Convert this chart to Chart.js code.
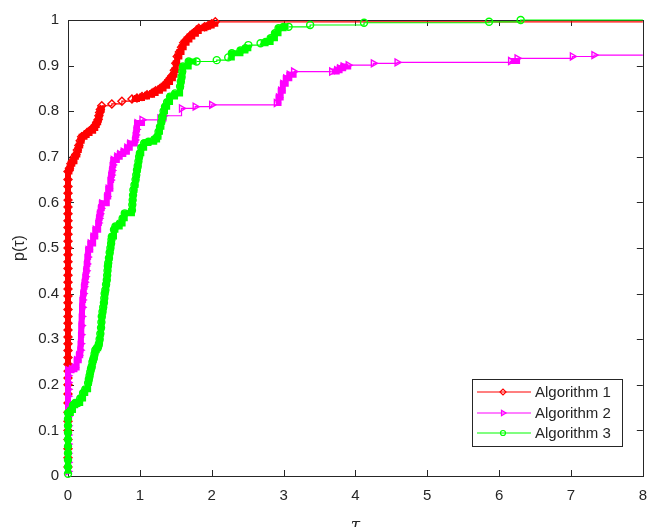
<!DOCTYPE html>
<html>
<head>
<meta charset="utf-8">
<script src="https://cdn.jsdelivr.net/npm/chart.js@4.4.1/dist/chart.umd.min.js"></script>
<style>
html, body { margin: 0; padding: 0; background: #fff; overflow: hidden; }
#frame { width: 647px; height: 527px; overflow: hidden; }
#wrap { width: 658px; height: 527px; }
</style>
</head>
<body>
<div id="frame"><div id="wrap"><canvas id="perf"></canvas></div></div>
<script>
// ===== DATA (tau, p(tau)) =====
const xTicks = [0, 1, 2, 3, 4, 5, 6, 7, 8];
const yTicks = [0, 0.1, 0.2, 0.3, 0.4, 0.5, 0.6, 0.7, 0.8, 0.9, 1];
const seriesNames = ['Algorithm 1', 'Algorithm 2', 'Algorithm 3'];

const alg1Points = [
    [0, 0.02], [0, 0.04], [0, 0.06], [0, 0.08], [0, 0.10], [0, 0.12], [0, 0.14], [0, 0.16],
    [0, 0.18], [0, 0.20], [0, 0.215], [0, 0.23], [0, 0.245],
    [0, 0.26], [0, 0.275], [0, 0.29], [0, 0.305], [0, 0.32], [0, 0.335], [0, 0.35], [0, 0.365],
    [0, 0.38], [0, 0.395], [0, 0.41], [0, 0.425], [0, 0.44], [0, 0.455], [0, 0.47], [0, 0.485],
    [0, 0.50], [0, 0.515], [0, 0.53], [0, 0.545], [0, 0.56], [0, 0.575], [0, 0.59], [0, 0.605],
    [0, 0.62], [0, 0.635], [0, 0.65], [0, 0.668],
    [0.02, 0.675], [0.04, 0.685], [0.06, 0.69], [0.09, 0.70], [0.11, 0.705], [0.13, 0.715],
    [0.15, 0.725], [0.17, 0.735], [0.19, 0.744], [0.23, 0.748], [0.26, 0.752], [0.30, 0.757],
    [0.35, 0.763], [0.38, 0.77], [0.40, 0.776], [0.42, 0.782], [0.43, 0.79], [0.44, 0.797],
    [0.45, 0.804], [0.47, 0.812], [0.61, 0.816], [0.75, 0.822], [0.89, 0.827], [0.96, 0.829],
    [1.03, 0.832], [1.10, 0.836], [1.17, 0.84], [1.22, 0.845], [1.28, 0.85], [1.33, 0.856],
    [1.38, 0.864], [1.42, 0.872], [1.46, 0.88], [1.48, 0.89], [1.50, 0.905], [1.52, 0.92],
    [1.55, 0.93], [1.58, 0.94], [1.61, 0.95], [1.65, 0.957], [1.69, 0.964], [1.73, 0.97],
    [1.78, 0.976], [1.82, 0.982], [1.90, 0.985], [1.95, 0.988], [2.0, 0.992], [2.05, 0.996],
    [8, 0.996]
];

const alg2Points = [
    [0, 0.01], [0, 0.03], [0, 0.05], [0, 0.07], [0, 0.09], [0, 0.11], [0, 0.13], [0, 0.145],
    [0, 0.16], [0, 0.175], [0, 0.19], [0, 0.205], [0, 0.22], [0, 0.232],
    [0.05, 0.234], [0.09, 0.238], [0.12, 0.254], [0.15, 0.265], [0.17, 0.276], [0.175, 0.29],
    [0.18, 0.31], [0.185, 0.33], [0.19, 0.35], [0.195, 0.37], [0.20, 0.386], [0.21, 0.40],
    [0.22, 0.415], [0.23, 0.425], [0.24, 0.437], [0.25, 0.45], [0.26, 0.465], [0.27, 0.48],
    [0.28, 0.496], [0.31, 0.51], [0.35, 0.525], [0.38, 0.54], [0.42, 0.555], [0.43, 0.565],
    [0.44, 0.575], [0.455, 0.587], [0.47, 0.598], [0.54, 0.613], [0.56, 0.63], [0.59, 0.649],
    [0.60, 0.66], [0.61, 0.67], [0.62, 0.682], [0.63, 0.693], [0.68, 0.70], [0.72, 0.706],
    [0.77, 0.711], [0.82, 0.72], [0.86, 0.729], [0.93, 0.737], [0.94, 0.748], [0.95, 0.76],
    [0.96, 0.774], [1.03, 0.781], [1.28, 0.784], [1.33, 0.79], [1.58, 0.806], [1.77, 0.81],
    [2.0, 0.814], [2.90, 0.818], [2.93, 0.83], [2.96, 0.845], [2.99, 0.86], [3.03, 0.872],
    [3.08, 0.88], [3.14, 0.887], [3.67, 0.887], [3.74, 0.89], [3.78, 0.894], [3.83, 0.898],
    [3.90, 0.901], [4.25, 0.905], [4.58, 0.907], [6.16, 0.91], [6.25, 0.916], [7.02, 0.92],
    [7.32, 0.923], [8, 0.923]
];

const alg3Points = [
    [0, 0.005], [0, 0.02], [0, 0.035], [0, 0.05], [0, 0.065], [0, 0.08], [0, 0.095], [0, 0.11],
    [0, 0.125], [0, 0.138],
    [0.04, 0.145], [0.07, 0.155], [0.10, 0.16], [0.14, 0.16], [0.17, 0.17], [0.21, 0.182],
    [0.24, 0.19], [0.28, 0.204], [0.29, 0.212], [0.30, 0.22], [0.31, 0.228], [0.32, 0.235],
    [0.33, 0.24], [0.34, 0.25], [0.35, 0.255], [0.36, 0.26], [0.37, 0.268], [0.38, 0.276],
    [0.40, 0.28], [0.42, 0.284], [0.43, 0.29], [0.44, 0.30], [0.45, 0.312], [0.46, 0.325],
    [0.465, 0.337], [0.47, 0.35], [0.48, 0.36], [0.49, 0.37], [0.50, 0.38], [0.505, 0.39],
    [0.51, 0.40], [0.52, 0.408], [0.53, 0.42], [0.54, 0.43], [0.545, 0.44], [0.55, 0.45],
    [0.555, 0.46], [0.56, 0.467], [0.57, 0.478], [0.58, 0.49], [0.59, 0.50], [0.60, 0.51],
    [0.605, 0.518], [0.61, 0.525], [0.64, 0.54], [0.66, 0.547], [0.72, 0.554], [0.76, 0.565],
    [0.79, 0.576], [0.89, 0.583], [0.895, 0.595], [0.90, 0.605], [0.905, 0.616], [0.91, 0.627],
    [0.925, 0.638], [0.94, 0.65], [0.95, 0.66], [0.96, 0.671], [0.97, 0.68], [0.98, 0.69],
    [0.99, 0.70], [1.0, 0.708], [1.02, 0.72], [1.06, 0.73], [1.12, 0.733], [1.20, 0.738],
    [1.24, 0.744], [1.26, 0.755], [1.28, 0.766], [1.30, 0.777], [1.31, 0.788], [1.33, 0.80],
    [1.35, 0.81], [1.38, 0.82], [1.42, 0.832], [1.49, 0.839], [1.56, 0.854], [1.57, 0.865],
    [1.58, 0.875], [1.59, 0.887], [1.60, 0.898], [1.68, 0.909], [1.79, 0.909], [2.07, 0.912],
    [2.23, 0.918], [2.28, 0.927], [2.40, 0.933], [2.47, 0.938], [2.51, 0.945], [2.68, 0.949],
    [2.75, 0.952], [2.82, 0.96], [2.88, 0.971], [2.93, 0.982], [3.0, 0.985], [3.07, 0.985],
    [3.37, 0.989], [4.12, 0.994], [5.86, 0.996], [6.3, 1.0], [8, 1.0]
];

const AXIS_COLOR = '#262626';
const FONT = 'Liberation Sans, Arial, Helvetica, sans-serif';

const styles = [
    { color: '#ff0000', pointStyle: 'rectRot', radius: 4, rotation: 0 },
    { color: '#ff00ff', pointStyle: 'triangle', radius: 4, rotation: 90 },
    { color: '#00ff00', pointStyle: 'circle', radius: 3.5, rotation: 0 }
];

function toXY(points) {
    return points.map(pt => ({ x: pt[0], y: pt[1] }));
}

// markers crowd together where many problems share close ratios;
// draw those stretches as a thick band like the overlapping markers do
function crowdedWidth(ctx) {
    const d = Math.hypot(ctx.p1.x - ctx.p0.x, ctx.p1.y - ctx.p0.y);
    return d < 10 ? 6 : 1.2;
}

function makeDataset(points, i) {
    const st = styles[i];
    const last = points.length - 1;
    return {
        label: seriesNames[i],
        data: toXY(points),
        stepped: 'before',
        borderColor: st.color,
        borderWidth: 1.2,
        segment: { borderWidth: crowdedWidth },
        pointStyle: st.pointStyle,
        pointRotation: st.rotation,
        pointRadius: ctx => (ctx.dataIndex === last ? 0 : st.radius),
        pointBorderColor: st.color,
        pointBackgroundColor: 'rgba(0,0,0,0)',
        pointBorderWidth: 1.4,
        order: 3 - i,
        clip: false
    };
}

// ===== BOX + INWARD TICKS =====
const framePlugin = {
    id: 'frame',
    beforeDatasetsDraw(chart) {
        const { ctx, chartArea: a, scales } = chart;
        ctx.save();
        ctx.strokeStyle = AXIS_COLOR;
        ctx.lineWidth = 1;
        ctx.strokeRect(Math.round(a.left) + 0.5, Math.round(a.top) + 0.5,
            Math.round(a.right - a.left), Math.round(a.bottom - a.top));
        const tl = 6;
        ctx.beginPath();
        xTicks.forEach(v => {
            const x = Math.round(scales.x.getPixelForValue(v)) + 0.5;
            ctx.moveTo(x, a.bottom); ctx.lineTo(x, a.bottom - tl);
            ctx.moveTo(x, a.top); ctx.lineTo(x, a.top + tl);
        });
        yTicks.forEach(v => {
            const y = Math.round(scales.y.getPixelForValue(v)) + 0.5;
            ctx.moveTo(a.left, y); ctx.lineTo(a.left + tl, y);
            ctx.moveTo(a.right, y); ctx.lineTo(a.right - tl, y);
        });
        ctx.stroke();
        ctx.restore();
    }
};

// ===== LEGEND BOX INSIDE THE PLOT =====
const legendPlugin = {
    id: 'boxLegend',
    afterDatasetsDraw(chart) {
        const ctx = chart.ctx;
        const box = { x: 472.5, y: 379.5, w: 150, h: 67 };
        ctx.save();
        ctx.fillStyle = '#fff';
        ctx.fillRect(box.x, box.y, box.w, box.h);
        ctx.strokeStyle = AXIS_COLOR;
        ctx.lineWidth = 1;
        ctx.strokeRect(box.x, box.y, box.w, box.h);
        ctx.font = '15px ' + FONT;
        ctx.textBaseline = 'middle';
        const rows = [392, 413, 433];
        seriesNames.forEach((name, i) => {
            const st = styles[i];
            const y = rows[i];
            ctx.strokeStyle = st.color;
            ctx.lineWidth = 1.2;
            ctx.beginPath();
            ctx.moveTo(477, y); ctx.lineTo(531, y);
            ctx.stroke();
            ctx.fillStyle = 'rgba(0,0,0,0)';
            Chart.helpers.drawPoint(ctx, {
                pointStyle: st.pointStyle,
                radius: st.radius - 1,
                rotation: st.rotation,
                borderWidth: 1
            }, 503, y);
            ctx.fillStyle = AXIS_COLOR;
            ctx.fillText(name, 535, y + 1);
        });
        ctx.restore();
    }
};

new Chart(document.getElementById('perf'), {
    type: 'line',
    data: {
        datasets: [alg1Points, alg2Points, alg3Points].map(makeDataset)
    },
    options: {
        responsive: true,
        maintainAspectRatio: false,
        animation: false,
        layout: { padding: { top: 20, right: 0, left: 0, bottom: 0 }, autoPadding: false },
        plugins: {
            legend: { display: false },
            tooltip: { enabled: false }
        },
        scales: {
            x: {
                type: 'linear',
                min: 0,
                max: 8,
                afterBuildTicks: s => { s.ticks = xTicks.map(v => ({ value: v })); },
                afterFit: s => { s.height = 51; },
                grid: { display: false, drawTicks: false },
                border: { display: false },
                ticks: {
                    color: AXIS_COLOR,
                    font: { family: FONT, size: 15 },
                    padding: 11,
                    maxRotation: 0,
                    autoSkip: false
                },
                title: {
                    display: true,
                    text: 'τ',
                    color: AXIS_COLOR,
                    font: { family: 'DejaVu Serif, serif', size: 17, style: 'italic' },
                    padding: { top: 0, bottom: -9 }
                }
            },
            y: {
                min: 0,
                max: 1,
                afterBuildTicks: s => { s.ticks = yTicks.map(v => ({ value: v })); },
                afterFit: s => { s.width = 68; },
                grid: { display: false, drawTicks: false },
                border: { display: false },
                ticks: {
                    color: AXIS_COLOR,
                    font: { family: FONT, size: 15 },
                    padding: 9,
                    autoSkip: false,
                    callback: v => String(Number(v.toFixed(1)))
                },
                title: {
                    display: true,
                    text: 'p(τ)',
                    color: AXIS_COLOR,
                    font: { family: FONT, size: 16 },
                    padding: { top: 10, bottom: 0 }
                }
            }
        }
    },
    plugins: [framePlugin, legendPlugin]
});
</script>
</body>
</html>
